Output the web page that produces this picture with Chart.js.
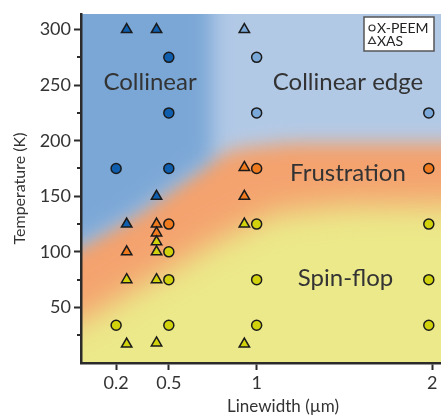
<!DOCTYPE html>
<html><head><meta charset="utf-8">
<script src="https://cdn.jsdelivr.net/npm/chart.js@4/dist/chart.umd.min.js"></script>
<style>html,body{margin:0;padding:0;background:#fff;overflow:hidden}#wrap{position:relative;width:441px;height:418px;overflow:hidden}</style>
</head><body><div id="wrap"><canvas id="c" width="485" height="418"></canvas></div>
<script>
// ---- data ----
// X-PEEM measurements (circles)
const peemLinewidth   = [0.2, 0.2, 0.5, 0.5, 0.5, 0.5, 0.5, 0.5, 0.5, 1, 1, 1, 1, 1, 1, 1.98, 1.98, 1.98, 1.98, 1.98];
const peemTemperature = [175, 34, 275, 225, 175, 125, 100, 75, 34, 275, 225, 175, 125, 75, 34, 225, 175, 125, 75, 34];
const peemPhase       = ['C','S','C','C','C','F','S','S','S','E','E','F','S','S','S','E','F','S','S','S'];
// XAS measurements (triangles)
const xasLinewidth    = [0.26, 0.26, 0.26, 0.26, 0.26, 0.43, 0.43, 0.43, 0.43, 0.43, 0.43, 0.43, 0.43, 0.93, 0.93, 0.93, 0.93, 0.93];
const xasTemperature  = [300, 125, 100, 75, 17, 300, 150, 125, 117, 109, 100, 75, 18, 300, 176, 150, 125, 17];
const xasPhase        = ['C','C','F','S','S','C','C','F','F','S','S','S','S','E','F','F','S','S'];
// axis ticks
const xTicks      = [0.2, 0.5, 1, 2];
const yTicks      = [50, 100, 150, 200, 250, 300];
const yMinorTicks = [25, 75, 125, 175, 225, 275];
// phase region names
const regionNames = ['Collinear', 'Collinear edge', 'Frustration', 'Spin-flop'];
const regionAnchorX = [0.393, 1.52, 1.52, 1.506];
const regionAnchorT = [253, 253, 171, 76];

// ---- styles ----
const markerColor = {C:'#0f5fae', E:'#7aa8d8', F:'#f07a1e', S:'#d2d20c'};
const INK = '#2b2b2b';
const VISIBLE_WIDTH = 441;
// phase boundaries (data units) for the shaded background
const orangeEdge = [[-0.5,5],[0,38],[0.4,75],[0.8,112],[1.1,135],[1.5,142],[2.8,143]];
const blueEdge   = [[-0.5,80],[0,108],[0.3,135],[0.5,157],[0.745,184],[0.9,193],[1.2,198],[2.8,198]];
const darkEdgeX  = 0.745;

const bgPlugin = {
  id: 'phaseBg',
  beforeDraw(chart) {
    const {ctx, chartArea: a, scales: {x, y}} = chart;
    const m = 80;
    const W = Math.ceil(a.right - a.left + 2*m), H = Math.ceil(a.bottom - a.top + 2*m);
    const off = document.createElement('canvas'); off.width = W; off.height = H;
    const o = off.getContext('2d');
    const px = v => x.getPixelForValue(v) - a.left + m;
    const py = v => y.getPixelForValue(v) - a.top + m;
    o.fillStyle = '#ece98a'; o.fillRect(0, 0, W, H);
    const TOP = 600;
    function poly(pts, color, blur) {
      o.save(); o.filter = 'blur(' + blur + 'px)'; o.fillStyle = color; o.beginPath();
      pts.forEach((p, i) => { const X = px(p[0]), Y = py(p[1]); i ? o.lineTo(X, Y) : o.moveTo(X, Y); });
      o.closePath(); o.fill(); o.restore();
    }
    poly([...orangeEdge, [2.8, TOP], [-0.5, TOP]], '#f4a36f', 15);
    poly([...blueEdge, [2.8, TOP], [-0.5, TOP]], '#b2c9e6', 9);
    const dark = blueEdge.filter(p => p[0] <= darkEdgeX);
    poly([...dark, [darkEdgeX, TOP], [-0.5, TOP]], '#7ba7d6', 10);
    ctx.save();
    ctx.beginPath(); ctx.rect(a.left, a.top, a.right - a.left, a.bottom - a.top); ctx.clip();
    ctx.drawImage(off, a.left - m, a.top - m);
    ctx.restore();
  },
  beforeDatasetsDraw(chart) {
    const {ctx, chartArea: a, scales: {x, y}} = chart;
    // minor y ticks
    ctx.save();
    ctx.strokeStyle = INK; ctx.lineWidth = 2;
    yMinorTicks.forEach(v => {
      const Y = Math.round(y.getPixelForValue(v));
      ctx.beginPath(); ctx.moveTo(a.left - 4, Y); ctx.lineTo(a.left, Y); ctx.stroke();
    });
    // region labels
    ctx.fillStyle = '#333'; ctx.font = '24px Lato'; ctx.textAlign = 'center'; ctx.textBaseline = 'middle';
    regionNames.forEach((t, i) => ctx.fillText(t, x.getPixelForValue(regionAnchorX[i]), y.getPixelForValue(regionAnchorT[i])));
    ctx.restore();
  },
  afterDraw(chart) {
    const {ctx, chartArea: a} = chart;
    const bw = 70, bh = 34;
    const bx = VISIBLE_WIDTH - 7 - bw, by = a.top + 3;
    ctx.save();
    ctx.fillStyle = '#fff'; ctx.fillRect(bx, by, bw, bh);
    ctx.strokeStyle = '#555'; ctx.lineWidth = 1.5; ctx.strokeRect(bx, by, bw, bh);
    ctx.strokeStyle = '#333'; ctx.lineWidth = 1.2;
    const mx = bx + 8;
    ctx.beginPath(); ctx.arc(mx, by + 11, 3, 0, Math.PI*2); ctx.stroke();
    ctx.beginPath(); ctx.moveTo(mx, by + 20); ctx.lineTo(mx + 3.5, by + 26.5); ctx.lineTo(mx - 3.5, by + 26.5); ctx.closePath(); ctx.stroke();
    ctx.fillStyle = '#222'; ctx.font = '14px Lato'; ctx.textAlign = 'left'; ctx.textBaseline = 'middle';
    ctx.fillText('X-PEEM', mx + 5, by + 11);
    ctx.fillText('XAS', mx + 5, by + 24);
    ctx.restore();
  }
};

Chart.defaults.font.family = 'Lato';
new Chart(document.getElementById('c'), {
  type: 'scatter',
  data: {
    datasets: [
      {
        label: 'X-PEEM',
        data: peemLinewidth.map((v, i) => ({x: v, y: peemTemperature[i]})),
        pointStyle: 'circle', pointRadius: 5,
        pointBackgroundColor: peemPhase.map(p => markerColor[p]),
        pointBorderColor: '#1a1a1a', pointBorderWidth: 1.5
      },
      {
        label: 'XAS',
        data: xasLinewidth.map((v, i) => ({x: v, y: xasTemperature[i]})),
        pointStyle: 'triangle', pointRadius: 6,
        pointBackgroundColor: xasPhase.map(p => markerColor[p]),
        pointBorderColor: '#1a1a1a', pointBorderWidth: 1.5
      }
    ]
  },
  options: {
    responsive: false, animation: false, devicePixelRatio: 1,
    layout: {autoPadding: false, padding: {top: 14, right: 0, left: 0, bottom: 0}},
    plugins: {legend: {display: false}, tooltip: {enabled: false}},
    scales: {
      x: {
        type: 'linear', min: 0, max: 2.3,
        afterBuildTicks: s => { s.ticks = xTicks.map(v => ({value: v})); },
        afterFit: s => { s.height = 55; s.paddingLeft = 0; s.paddingRight = 0; },
        ticks: {callback: v => String(v), font: {size: 18}, color: '#333', padding: 2, maxRotation: 0, autoSkip: false},
        grid: {drawOnChartArea: false, drawTicks: true, tickLength: 7, tickWidth: 2, tickColor: INK},
        border: {display: true, color: INK, width: 2.5},
        title: {display: true, text: 'Linewidth (µm)', font: {size: 17}, color: '#333', padding: {top: 0, bottom: 1}}
      },
      y: {
        type: 'linear', min: 0, max: 314,
        afterBuildTicks: s => { s.ticks = yTicks.map(v => ({value: v})); },
        afterFit: s => { s.width = 81; s.paddingTop = 0; s.paddingBottom = 0; },
        ticks: {font: {size: 18}, color: '#333', padding: 3, autoSkip: false},
        grid: {drawOnChartArea: false, drawTicks: true, tickLength: 7, tickWidth: 2, tickColor: INK},
        border: {display: true, color: INK, width: 2.5},
        title: {display: true, text: 'Temperature (K)', font: {size: 16}, color: '#333', padding: {top: 10, bottom: 0}}
      }
    }
  },
  plugins: [bgPlugin]
});
</script>
</body></html>
